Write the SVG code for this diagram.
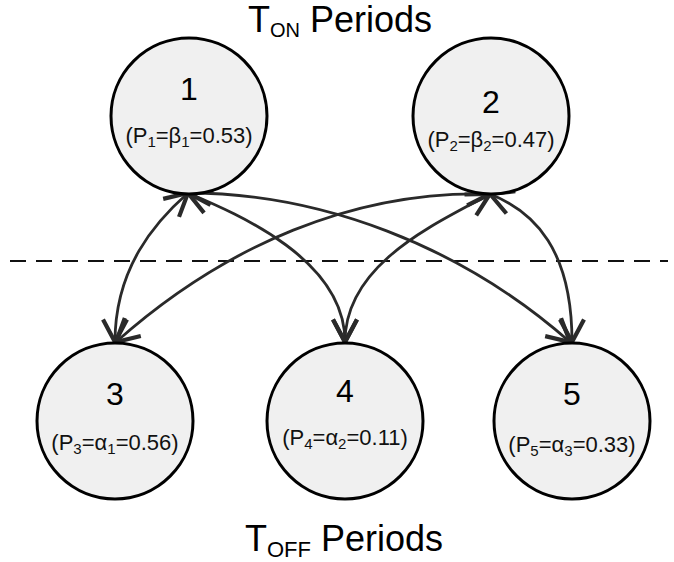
<svg xmlns="http://www.w3.org/2000/svg" width="674" height="562" viewBox="0 0 674 562">
<style>
.node{fill:#f0f0f0;stroke:#000;stroke-width:3}
.num{font-family:"Liberation Sans",Arial,sans-serif;font-size:32px;fill:#000;text-anchor:middle}
.lbl{font-family:"Liberation Sans",Arial,sans-serif;font-size:22px;fill:#111;text-anchor:middle}
.sub{font-size:15px}
.title{font-family:"Liberation Sans",Arial,sans-serif;font-size:36px;fill:#000}
.edge{fill:none;stroke:#2a2a2a;stroke-width:2.8;marker-start:url(#arr);marker-end:url(#arr)}
</style>
<defs>
<marker id="arr" markerUnits="userSpaceOnUse" markerWidth="30" markerHeight="30" viewBox="-16 -10 20 20" refX="0" refY="0" orient="auto-start-reverse">
<path d="M-15,-8 L0,0 L-15,8" fill="none" stroke="#2a2a2a" stroke-width="2.8"/>
</marker>
</defs>
<rect width="674" height="562" fill="#fff"/>
<line x1="10" y1="261" x2="668" y2="261" stroke="#111" stroke-width="2" stroke-dasharray="16,10"/>
<g id="connectors">
<path class="edge" d="M188,193 C155,222 115,268 115,342"/>
<path class="edge" d="M188,193 C240,215 345,260 345,342"/>
<path class="edge" d="M188,193 C320,193 460,245 570,342"/>
<path class="edge" d="M490,194 C355,190 225,245 116,342"/>
<path class="edge" d="M490,194 C440,222 345,262 345,342"/>
<path class="edge" d="M490,194 C535,212 572,250 572,342"/>
</g>
<g id="node1">
<circle class="node" cx="189" cy="116" r="78"/>
<text class="num" x="189" y="100">1</text>
<text class="lbl" x="189" y="143">(P<tspan class="sub" dy="4">1</tspan><tspan dy="-4">=β</tspan><tspan class="sub" dy="4">1</tspan><tspan dy="-4">=0.53)</tspan></text>
</g>
<g id="node2">
<circle class="node" cx="491" cy="116" r="78"/>
<text class="num" x="491" y="113">2</text>
<text class="lbl" x="491" y="147">(P<tspan class="sub" dy="4">2</tspan><tspan dy="-4">=β</tspan><tspan class="sub" dy="4">2</tspan><tspan dy="-4">=0.47)</tspan></text>
</g>
<g id="node3">
<circle class="node" cx="115" cy="421" r="78"/>
<text class="num" x="115" y="405">3</text>
<text class="lbl" x="115" y="450">(P<tspan class="sub" dy="4">3</tspan><tspan dy="-4">=α</tspan><tspan class="sub" dy="4">1</tspan><tspan dy="-4">=0.56)</tspan></text>
</g>
<g id="node4">
<circle class="node" cx="345" cy="421" r="78"/>
<text class="num" x="345" y="402">4</text>
<text class="lbl" x="345" y="445">(P<tspan class="sub" dy="4">4</tspan><tspan dy="-4">=α</tspan><tspan class="sub" dy="4">2</tspan><tspan dy="-4">=0.11)</tspan></text>
</g>
<g id="node5">
<circle class="node" cx="572" cy="421" r="78"/>
<text class="num" x="572" y="405">5</text>
<text class="lbl" x="572" y="452">(P<tspan class="sub" dy="4">5</tspan><tspan dy="-4">=α</tspan><tspan class="sub" dy="4">3</tspan><tspan dy="-4">=0.33)</tspan></text>
</g>
<text class="title" x="248" y="32">T<tspan font-size="20" dy="5">ON</tspan><tspan dy="-5"> Periods</tspan></text>
<text class="title" x="245" y="551">T<tspan font-size="22" dy="6">OFF</tspan><tspan dy="-6"> Periods</tspan></text>
</svg>
